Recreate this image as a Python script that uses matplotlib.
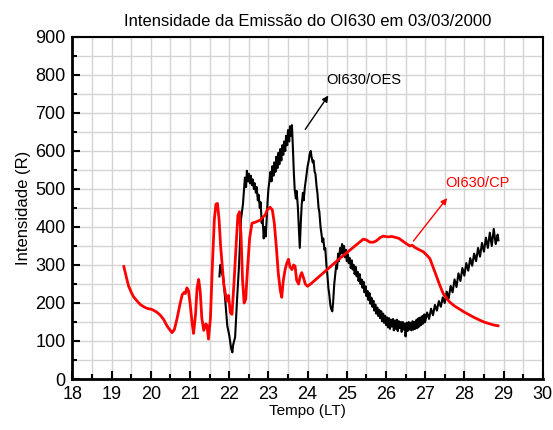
import matplotlib
matplotlib.use("Agg")
import matplotlib.pyplot as plt
from matplotlib.ticker import MultipleLocator

plt.rcParams['font.family'] = ['Liberation Sans', 'DejaVu Sans']

# OI630 / OES (fotometro) - sinal ruidoso
oes_tempo = [21.75, 21.77, 21.80, 21.85, 21.90, 21.95, 22.00, 22.05, 22.08, 22.10,
             22.15, 22.20, 22.25, 22.30, 22.35, 22.40, 22.43, 22.45, 22.48, 22.50,
             22.53, 22.55, 22.58, 22.60, 22.63, 22.65, 22.68, 22.70, 22.73, 22.75,
             22.78, 22.80, 22.83, 22.85, 22.88, 22.90, 22.93, 22.95, 22.98, 23.00,
             23.03, 23.05, 23.08, 23.10, 23.13, 23.15, 23.18, 23.20, 23.23, 23.25,
             23.28, 23.30, 23.33, 23.35, 23.38, 23.40, 23.43, 23.45, 23.48, 23.50,
             23.53, 23.55, 23.58, 23.60, 23.62, 23.65, 23.67, 23.70, 23.72, 23.75,
             23.78, 23.80, 23.83, 23.85, 23.88, 23.90, 23.93, 23.95, 23.98, 24.00,
             24.03, 24.05, 24.08, 24.10, 24.13, 24.15, 24.18, 24.20, 24.23, 24.25,
             24.28, 24.30, 24.33, 24.35, 24.38, 24.40, 24.43, 24.45, 24.48, 24.50,
             24.53, 24.55, 24.58, 24.60, 24.63, 24.65, 24.68, 24.70, 24.73, 24.75,
             24.78, 24.80, 24.83, 24.85, 24.88, 24.90, 24.93, 24.95, 24.98, 25.00,
             25.03, 25.05, 25.08, 25.10, 25.13, 25.15, 25.18, 25.20, 25.23, 25.25,
             25.28, 25.30, 25.33, 25.35, 25.38, 25.40, 25.43, 25.45, 25.48, 25.50,
             25.53, 25.55, 25.58, 25.60, 25.63, 25.65, 25.68, 25.70, 25.73, 25.75,
             25.78, 25.80, 25.83, 25.85, 25.88, 25.90, 25.93, 25.95, 25.98, 26.00,
             26.03, 26.05, 26.08, 26.10, 26.13, 26.15, 26.18, 26.20, 26.23, 26.25,
             26.28, 26.30, 26.33, 26.35, 26.38, 26.40, 26.43, 26.45, 26.48, 26.50,
             26.53, 26.55, 26.58, 26.60, 26.63, 26.65, 26.68, 26.70, 26.73, 26.75,
             26.78, 26.80, 26.83, 26.85, 26.88, 26.90, 26.93, 26.95, 26.98, 27.00,
             27.05, 27.10, 27.15, 27.20, 27.25, 27.30, 27.35, 27.40, 27.45, 27.50,
             27.55, 27.60, 27.65, 27.70, 27.75, 27.80, 27.85, 27.90, 27.95, 28.00,
             28.05, 28.10, 28.15, 28.20, 28.25, 28.30, 28.35, 28.40, 28.45, 28.50,
             28.55, 28.60, 28.65, 28.70, 28.75, 28.80, 28.85, 28.87]
oes_intens = [270, 300, 285, 265, 205, 140, 115, 80, 70, 90,
              110, 210, 300, 420, 460, 530, 505, 548, 520, 540,
              515, 535, 510, 525, 500, 515, 490, 505, 470, 485,
              450, 465, 410, 425, 370, 400, 375, 410, 470, 500,
              525, 545, 520, 560, 535, 570, 545, 585, 555, 595,
              565, 605, 575, 615, 590, 625, 600, 640, 615, 655,
              625, 665, 640, 668, 620, 540, 500, 475, 495, 455,
              390, 345, 420, 460, 490, 470, 505, 520, 545, 560,
              575, 590, 600, 585, 570, 575, 545, 540, 505, 490,
              450, 440, 400, 385, 360, 370, 340, 345, 300, 280,
              240, 225, 195, 185, 178, 200, 250, 270, 300, 290,
              330, 310, 345, 330, 355, 330, 350, 320, 340, 310,
              328, 305, 318, 292, 312, 288, 300, 276, 295, 270,
              282, 258, 276, 250, 262, 240, 256, 228, 244, 218,
              232, 208, 226, 198, 214, 190, 206, 180, 196, 172,
              188, 166, 182, 160, 178, 152, 172, 148, 166, 142,
              162, 136, 160, 132, 156, 138, 158, 128, 154, 132,
              156, 126, 152, 134, 150, 124, 150, 130, 146, 112,
              148, 126, 150, 130, 148, 128, 152, 130, 150, 132,
              156, 134, 160, 138, 162, 142, 166, 146, 170, 150,
              175, 158, 185, 168, 195, 180, 205, 190, 215, 200,
              230, 212, 245, 228, 262, 242, 278, 258, 292, 272,
              305, 285, 318, 298, 330, 310, 345, 322, 358, 335,
              372, 345, 385, 350, 395, 355, 380, 365]

# OI630 / CP (imageador) - curva suave
cp_tempo = [19.31, 19.37, 19.43, 19.50, 19.56, 19.65, 19.73, 19.82, 19.90, 20.03,
            20.15, 20.24, 20.33, 20.40, 20.45, 20.54, 20.60, 20.67, 20.75, 20.80,
            20.85, 20.88, 20.92, 20.96, 21.00, 21.05, 21.09, 21.14, 21.18, 21.22,
            21.26, 21.30, 21.35, 21.40, 21.43, 21.47, 21.52, 21.57, 21.62, 21.66,
            21.70, 21.74, 21.78, 21.82, 21.86, 21.90, 21.94, 21.98, 22.03, 22.07,
            22.12, 22.18, 22.22, 22.26, 22.30, 22.34, 22.38, 22.42, 22.46, 22.52,
            22.58, 22.65, 22.72, 22.79, 22.85, 22.92, 22.97, 23.04, 23.10, 23.15,
            23.20, 23.25, 23.30, 23.34, 23.38, 23.43, 23.47, 23.51, 23.55, 23.60,
            23.64, 23.68, 23.72, 23.77, 23.81, 23.85, 23.90, 23.94, 24.00, 24.10,
            24.83, 25.42, 25.50, 25.59, 25.68, 25.76, 25.85, 25.93, 26.05, 26.15,
            26.23, 26.33, 26.44, 26.52, 26.61, 26.67, 26.74, 26.85, 26.95, 27.05,
            27.12, 27.20, 27.29, 27.38, 27.46, 27.55, 27.63, 27.75, 27.89, 28.00,
            28.14, 28.25, 28.39, 28.50, 28.65, 28.75, 28.86]
cp_intens = [296, 270, 245, 228, 216, 205, 196, 190, 186, 183,
             176, 168, 156, 142, 134, 122, 130, 160, 200, 222,
             228, 225, 240, 232, 200, 150, 120, 170, 240, 262,
             230, 160, 128, 145, 142, 105, 160, 300, 420, 460,
             462, 420, 350, 300, 250, 225, 205, 220, 175, 170,
             250, 360, 430, 440, 380, 260, 200, 210, 280, 370,
             410, 412, 415, 418, 425, 432, 445, 452, 445, 410,
             350, 280, 235, 215, 260, 290, 305, 315, 295, 288,
             300, 297, 260, 250, 270, 280, 265, 250, 244, 252,
             318, 368, 366, 360, 360, 364, 372, 376, 374, 375,
             373, 370, 362, 356, 350, 352, 346, 340, 335, 325,
             317, 295, 270, 245, 225, 212, 202, 192, 183, 176,
             168, 162, 155, 150, 145, 142, 140]

fig = plt.figure(figsize=(5.53, 4.30), dpi=100)
ax = fig.add_axes([0.1311, 0.1186, 0.8503, 0.7954])

ax.plot(oes_tempo, oes_intens, color='black', linewidth=1.5, zorder=3)
ax.plot(cp_tempo, cp_intens, color='#ff0000', linewidth=2.0, zorder=4)

ax.set_xlim(18, 30)
ax.set_ylim(0, 900)
ax.xaxis.set_major_locator(MultipleLocator(1))
ax.xaxis.set_minor_locator(MultipleLocator(0.5))
ax.yaxis.set_major_locator(MultipleLocator(100))
ax.yaxis.set_minor_locator(MultipleLocator(50))
ax.grid(True, which='both', color='#d4d4d4', linewidth=1.0, zorder=0)
ax.set_axisbelow(True)

ax.tick_params(which='major', direction='in', length=6, width=1.5, labelsize=13,
               top=False, right=False, pad=5)
ax.tick_params(which='minor', direction='in', length=3.5, width=1.5,
               top=False, right=False)
for side in ['left', 'bottom']:
    ax.spines[side].set_linewidth(2.0)
for side in ['top', 'right']:
    ax.spines[side].set_linewidth(1.5)

ax.set_xlabel('Tempo (LT)', fontsize=11, labelpad=1)
ax.set_ylabel('Intensidade (R)', fontsize=12, labelpad=3)
ax.set_title('Intensidade da Emissão do OI630 em 03/03/2000', fontsize=12, pad=8)

ax.annotate('OI630/OES', xy=(24.53, 746), xytext=(24.47, 786),
            fontsize=10.5, color='black', va='center', ha='left')
ax.annotate('', xy=(24.53, 746), xytext=(23.94, 657),
            arrowprops=dict(arrowstyle='-|>', color='black', lw=1.0,
                            mutation_scale=9, shrinkA=0, shrinkB=0))
ax.annotate('OI630/CP', xy=(27.56, 476), xytext=(27.52, 516),
            fontsize=10.5, color='#ff0000', va='center', ha='left')
ax.annotate('', xy=(27.56, 476), xytext=(26.70, 363),
            arrowprops=dict(arrowstyle='-|>', color='#ff0000', lw=1.0,
                            mutation_scale=9, shrinkA=0, shrinkB=0))

fig.savefig('out.png', dpi=100)
